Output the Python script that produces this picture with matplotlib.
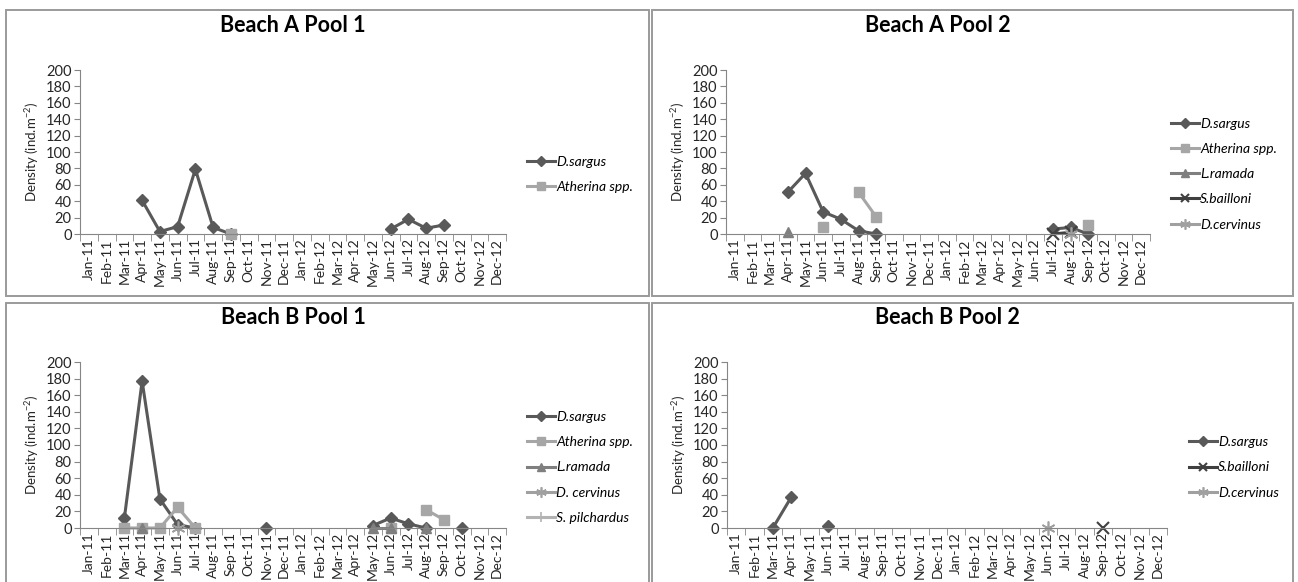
import matplotlib.pyplot as plt
import numpy as np
from matplotlib.patches import Rectangle
from matplotlib.lines import Line2D

plt.rcParams["font.family"] = ["Lato", "DejaVu Sans"]
plt.rcParams["mathtext.default"] = "regular"

N = np.nan

months = [
    "Jan-11", "Feb-11", "Mar-11", "Apr-11", "May-11", "Jun-11",
    "Jul-11", "Aug-11", "Sep-11", "Oct-11", "Nov-11", "Dec-11",
    "Jan-12", "Feb-12", "Mar-12", "Apr-12", "May-12", "Jun-12",
    "Jul-12", "Aug-12", "Sep-12", "Oct-12", "Nov-12", "Dec-12",
]

# Beach A Pool 1
a1_sargus = [N, N, N, 41, 3, 9, 79, 8, 0, N, N, N, N, N, N, N, N, 6, 18, 7, 11, N, N, N]
a1_atherina = [N, N, N, N, N, N, N, N, 0, N, N, N, N, N, N, N, N, N, N, N, N, N, N, N]

# Beach A Pool 2
a2_sargus = [N, N, N, 51, 74, 27, 18, 4, 0, N, N, N, N, N, N, N, N, N, 6, 8, 0, N, N, N]
a2_atherina = [N, N, N, N, N, 9, N, 51, 21, N, N, N, N, N, N, N, N, N, N, N, 11, N, N, N]
a2_ramada = [N, N, N, 2, N, N, N, N, N, N, N, N, N, N, N, N, N, N, N, N, N, N, N, N]
a2_bailloni = [N, N, N, N, N, N, N, N, N, N, N, N, N, N, N, N, N, N, 0, 2, N, N, N, N]
a2_cervinus = [N, N, N, N, N, N, N, N, N, N, N, N, N, N, N, N, N, N, N, 0, N, N, N, N]

# Beach B Pool 1
b1_sargus = [N, N, 12, 177, 35, 4, 0, N, N, N, 0, N, N, N, N, N, 3, 12, 5, 0, N, 0, N, N]
b1_atherina = [N, N, 0, 0, 0, 25, 0, N, N, N, N, N, N, N, N, N, N, 0, N, 22, 10, N, N, N]
b1_ramada = [N, N, N, 0, N, N, N, N, N, N, N, N, N, N, N, N, 0, 0, N, 0, N, N, N, N]
b1_cervinus = [N, N, N, N, N, 0, N, N, N, N, N, N, N, N, N, N, N, N, N, N, N, N, N, N]
b1_pilchardus = [N] * 24

# Beach B Pool 2
b2_sargus = [N, N, 0, 37, N, 2, N, N, N, N, N, N, N, N, N, N, N, N, N, N, N, N, N, N]
b2_bailloni = [N, N, N, N, N, N, N, N, N, N, N, N, N, N, N, N, N, N, N, N, 0, N, N, N]
b2_cervinus = [N, N, N, N, N, N, N, N, N, N, N, N, N, N, N, N, N, 0, N, N, N, N, N, N]

styles = {
    "D.sargus": dict(color="#595959", marker="D", ms=6.5),
    "Atherina spp.": dict(color="#a6a6a6", marker="s", ms=7.5),
    "L.ramada": dict(color="#7f7f7f", marker="^", ms=7.5),
    "S.bailloni": dict(color="#404040", marker="x", ms=8, mew=1.5),
    "D.cervinus": dict(color="#a0a0a0", marker=(6, 2, 0), ms=10, mew=1.2),
    "S. pilchardus": dict(color="#b3b3b3", marker="+", ms=9, mew=1.2),
}

W, H = 1298, 582
fig = plt.figure(figsize=(W / 100, H / 100), dpi=100)


def px_axes(x0, x1, y0, y1):
    return fig.add_axes([x0 / W, 1 - y1 / H, (x1 - x0) / W, (y1 - y0) / H])


def draw_panel(box, ax_px, title, series):
    bx0, by0, bx1, by1 = box
    fig.patches.append(
        Rectangle((bx0 / W, 1 - by1 / H), (bx1 - bx0) / W, (by1 - by0) / H,
                  transform=fig.transFigure, fill=False, ec="#9a9a9a", lw=1.4)
    )
    ax = px_axes(*ax_px)
    x = np.arange(len(months))
    handles = []
    for name, style_key, values in series:
        st = dict(styles[style_key])
        ms = st.pop("ms")
        ax.plot(x, values, lw=2.2, ms=ms, clip_on=False, **st)
        h = Line2D([], [], lw=2.2, ms=ms * 0.75, **st)
        handles.append((h, name))
    ax.set_xlim(-0.5, 23.5)
    ax.set_ylim(0, 200)
    ax.set_yticks(range(0, 201, 20))
    ax.set_xticks(x)
    ax.set_xticklabels(months, rotation=90, fontsize=10, color="#262626")
    ax.set_xticks(np.arange(-0.5, 24, 1), minor=True)
    ax.tick_params(axis="x", which="major", length=0, pad=3)
    ax.tick_params(axis="x", which="minor", length=5, color="#868686")
    ax.tick_params(axis="y", length=4, color="#868686", labelsize=10.5,
                   labelcolor="#262626", pad=2)
    for s in ("top", "right"):
        ax.spines[s].set_visible(False)
    for s in ("left", "bottom"):
        ax.spines[s].set_color("#868686")
    ax.set_ylabel("Density (ind.m$^{-2}$)", fontsize=9.5, labelpad=4,
                  color="#262626")
    top_gap = ax_px[3] - ax_px[2]
    ax.text(0.5, 1 + 45 / top_gap, title, transform=ax.transAxes,
            ha="center", va="center", fontsize=15.5, fontweight="bold")
    ax.legend([h for h, _ in handles], [n for _, n in handles],
              loc="center left", bbox_to_anchor=(1.05, 0.365), frameon=False,
              prop=dict(style="italic", size=10), handlelength=2.0,
              handletextpad=0.1, labelspacing=0.95, borderpad=0,
              borderaxespad=0)
    return ax


draw_panel((6, 10, 649, 296), (80, 506, 70, 234), "Beach A Pool 1", [
    ("D.sargus", "D.sargus", a1_sargus),
    ("Atherina spp.", "Atherina spp.", a1_atherina),
])
draw_panel((652, 10, 1293, 296), (726, 1150, 70, 234), "Beach A Pool 2", [
    ("D.sargus", "D.sargus", a2_sargus),
    ("Atherina spp.", "Atherina spp.", a2_atherina),
    ("L.ramada", "L.ramada", a2_ramada),
    ("S.bailloni", "S.bailloni", a2_bailloni),
    ("D.cervinus", "D.cervinus", a2_cervinus),
])
draw_panel((6, 303, 649, 600), (80, 506, 362, 528), "Beach B Pool 1", [
    ("D.sargus", "D.sargus", b1_sargus),
    ("Atherina spp.", "Atherina spp.", b1_atherina),
    ("L.ramada", "L.ramada", b1_ramada),
    ("D. cervinus", "D.cervinus", b1_cervinus),
    ("S. pilchardus", "S. pilchardus", b1_pilchardus),
])
draw_panel((652, 303, 1293, 600), (727, 1167, 362, 528), "Beach B Pool 2", [
    ("D.sargus", "D.sargus", b2_sargus),
    ("S.bailloni", "S.bailloni", b2_bailloni),
    ("D.cervinus", "D.cervinus", b2_cervinus),
])

fig.savefig("out.png", dpi=100)
